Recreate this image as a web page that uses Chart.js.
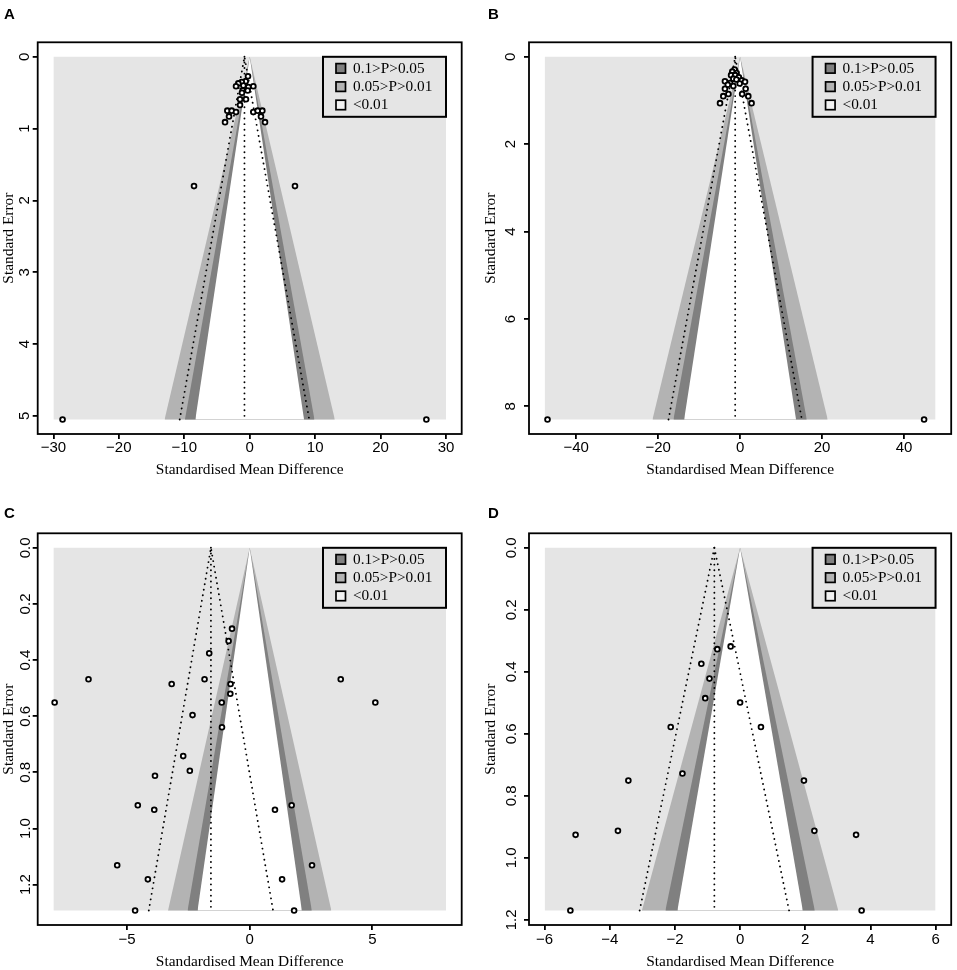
<!DOCTYPE html>
<html>
<head>
    <title>Contour-enhanced funnel plots</title>
    <script src="https://cdn.jsdelivr.net/npm/chart.js"></script>
    <style>
        body { margin: 0; background: #fff; }
        #wrap { position: relative; width: 957px; height: 970px; }
        canvas { position: absolute; }
        .tag { position: absolute; font: bold 15px "Liberation Sans", Arial, sans-serif; line-height: 1; }
    </style>
</head>
<body>
<div id="wrap">
    <canvas id="chartA" width="478" height="480" style="left:0;top:0"></canvas>
    <canvas id="chartB" width="479" height="480" style="left:478px;top:0"></canvas>
    <canvas id="chartC" width="478" height="490" style="left:0;top:480px"></canvas>
    <canvas id="chartD" width="479" height="490" style="left:478px;top:480px"></canvas>
    <div class="tag" style="left:4px;top:6px">A</div>
    <div class="tag" style="left:488px;top:6px">B</div>
    <div class="tag" style="left:4px;top:505px">C</div>
    <div class="tag" style="left:488px;top:505px">D</div>
</div>
<script>
    // study estimates (SMD) and standard errors
    const smdA = [-0.26, -0.61, -1.22, -1.74, -2.09, -0.97, -0.21, 0.55, -1.07, -0.31, -1.18, -1.48, -0.57, -1.48,
        -3.42, -2.75, -2.09, -3.16, -3.77, 0.55, 1.22, 1.93, 1.72, 2.34, -8.51, 6.92, -28.6, 27.0];
    const seA = [0.27, 0.34, 0.35, 0.37, 0.41, 0.40, 0.42, 0.41, 0.47, 0.47, 0.50, 0.59, 0.59, 0.67,
        0.75, 0.75, 0.77, 0.83, 0.91, 0.77, 0.75, 0.75, 0.83, 0.91, 1.80, 1.80, 5.05, 5.05];

    const smdB = [-1.35, -1.9, -0.85, -2.2, -1.2, -0.3, -1.65, -0.9, 0.4, -3.7, -2.45, 1.2, -0.1, -3.0, -1.65,
        -3.7, 1.35, -2.85, 0.5, -4.1, 2.0, -4.9, 2.8, -47.0, 44.9];
    const seB = [0.29, 0.34, 0.37, 0.42, 0.42, 0.47, 0.50, 0.52, 0.54, 0.56, 0.60, 0.57, 0.61, 0.64, 0.67,
        0.73, 0.73, 0.85, 0.85, 0.90, 0.90, 1.06, 1.06, 8.30, 8.30];

    const smdC = [-0.72, -0.86, -1.65, -6.57, -1.84, -3.18, -0.78, 3.71, -7.95, -1.14, -0.79, 5.12, -2.33, -1.13,
        -2.71, -2.44, -3.86, -4.56, -3.89, 1.03, 1.71, -5.40, 2.54, -4.15, 1.32, -4.67, 1.81];
    const seC = [0.288, 0.332, 0.376, 0.468, 0.468, 0.485, 0.485, 0.468, 0.551, 0.551, 0.520, 0.551, 0.596, 0.639,
        0.742, 0.794, 0.812, 0.917, 0.933, 0.933, 0.917, 1.131, 1.131, 1.181, 1.181, 1.292, 1.292];

    const smdD = [-0.29, -0.70, -1.19, -0.94, -1.07, 0.0, -2.13, 0.64, -1.77, -3.43, 1.96, -3.75, 2.28, -5.05, 3.56, -5.21, 3.73];
    const seD = [0.318, 0.327, 0.374, 0.422, 0.485, 0.499, 0.578, 0.578, 0.728, 0.751, 0.751, 0.913, 0.913, 0.926, 0.926, 1.17, 1.17];

    // pooled estimate, largest SE and x limit of each panel (A, B, C, D)
    const pooledSmd = [-0.8, -1.2, -1.58, -0.79];
    const seMax = [5.05, 8.30, 1.292, 1.17];
    const xLimit = [30, 47.7, 8, 6];

    const xTicksA = [-30, -20, -10, 0, 10, 20, 30];
    const xTicksB = [-40, -20, 0, 20, 40];
    const xTicksC = [-5, 0, 5];
    const xTicksD = [-6, -4, -2, 0, 2, 4, 6];
    const yTicksA = [0, 1, 2, 3, 4, 5];
    const yTicksB = [0, 2, 4, 6, 8];
    const yTicksC = [0, 0.2, 0.4, 0.6, 0.8, 1.0, 1.2];
    const yTicksD = [0, 0.2, 0.4, 0.6, 0.8, 1.0, 1.2];

    // contour z values: 0.1, 0.05, 0.01 two-sided
    const contourZ = [1.645, 1.96, 2.576];
    const ciZ = 1.96;
    const legendLabels = ['0.1>P>0.05', '0.05>P>0.01', '<0.01'];

    const colOuter = '#e5e5e5';
    const colLight = '#b3b3b3';
    const colDark = '#808080';
    const legendFills = [colDark, colLight, '#f2f2f2'];
    const serif = '"Liberation Serif", "Times New Roman", serif';

    Chart.defaults.color = '#000';
    Chart.defaults.font.family = '"Liberation Sans", Arial, sans-serif';

    // legend box in the top right corner of the shaded region
    const contourLegend = {
        id: 'contourLegend',
        afterDatasetsDraw(chart, args, opts) {
            const {ctx, scales: {x, y}} = chart;
            const right = x.getPixelForValue(opts.xRight);
            const top = y.getPixelForValue(0);
            const w = 123, h = 60;
            const left = right - w;
            ctx.save();
            ctx.fillStyle = colOuter;
            ctx.fillRect(left, top, w, h);
            ctx.lineWidth = 2;
            ctx.strokeStyle = '#000';
            ctx.strokeRect(left, top, w, h);
            ctx.font = '15.3px ' + serif;
            ctx.textBaseline = 'middle';
            ctx.textAlign = 'left';
            ctx.lineWidth = 1.7;
            legendLabels.forEach((lab, i) => {
                const cy = top + 11.5 + i * 18.3;
                ctx.fillStyle = legendFills[i];
                ctx.fillRect(left + 13, cy - 4.7, 9.5, 9.5);
                ctx.strokeRect(left + 13, cy - 4.7, 9.5, 9.5);
                ctx.fillStyle = '#000';
                ctx.fillText(lab, left + 30, cy + 0.5);
            });
            ctx.restore();
        }
    };

    // box around the plot region
    const frameBox = {
        id: 'frameBox',
        afterDraw(chart) {
            const {ctx, chartArea: a} = chart;
            ctx.save();
            ctx.lineWidth = 1.8;
            ctx.strokeStyle = '#000';
            ctx.strokeRect(a.left, a.top, a.right - a.left, a.bottom - a.top);
            ctx.restore();
        }
    };

    function triangle(z, s) {
        return [{x: -z * s, y: s}, {x: 0, y: 0}, {x: z * s, y: s}];
    }

    function fmtTick(v, dec) {
        const s = Math.abs(v).toFixed(dec);
        return v < 0 ? '\u2212' + s : s;
    }

    function drawFunnel(id, i, smd, se, xTicks, yTicks, yDec, frame, pads) {
        const canvas = document.getElementById(id);
        const s = seMax[i], p = pooledSmd[i], lim = xLimit[i];
        const dotted = {
            type: 'line', borderColor: '#000', borderWidth: 1.9, borderDash: [0.01, 5.6],
            borderCapStyle: 'round', pointRadius: 0, fill: false, order: 1
        };
        const band = (z, color, order) => ({
            type: 'line', data: triangle(z, s), borderWidth: 0, borderColor: color,
            backgroundColor: color, pointRadius: 0, fill: {value: s}, order: order
        });

        new Chart(canvas, {
            type: 'scatter',
            data: {
                datasets: [
                    {
                        data: smd.map((v, k) => ({x: v, y: se[k]})),
                        pointStyle: 'circle', pointRadius: 2.4, borderWidth: 1.8,
                        borderColor: '#000', backgroundColor: '#fff', order: 0
                    },
                    Object.assign({data: [{x: p, y: 0}, {x: p, y: s}]}, dotted),
                    Object.assign({data: [{x: p - ciZ * s, y: s}, {x: p, y: 0}, {x: p + ciZ * s, y: s}]}, dotted),
                    band(contourZ[0], '#ffffff', 2),
                    band(contourZ[1], colDark, 3),
                    band(contourZ[2], colLight, 4),
                    {
                        type: 'line', data: [{x: -lim, y: 0}, {x: lim, y: 0}], borderWidth: 0,
                        borderColor: colOuter, backgroundColor: colOuter, pointRadius: 0,
                        fill: {value: s}, order: 5
                    }
                ]
            },
            options: {
                responsive: false,
                animation: false,
                events: [],
                layout: {
                    padding: {
                        left: 0, top: frame.top,
                        right: canvas.width - frame.right,
                        bottom: canvas.height - frame.bottom - pads.xAxisH
                    }
                },
                plugins: {
                    legend: {display: false},
                    tooltip: {enabled: false},
                    contourLegend: {xRight: lim}
                },
                scales: {
                    x: {
                        type: 'linear',
                        min: -lim * 1.08, max: lim * 1.08,
                        afterBuildTicks: ax => { ax.ticks = xTicks.map(v => ({value: v})); },
                        afterFit: ax => { ax.height = pads.xAxisH; },
                        grid: {drawOnChartArea: false, drawTicks: true, tickLength: 5, color: '#000', lineWidth: 1.8},
                        border: {display: false},
                        ticks: {
                            padding: pads.xTick, font: {size: 15}, maxRotation: 0,
                            callback: v => fmtTick(v, 0)
                        },
                        title: {
                            display: true, text: 'Standardised Mean Difference',
                            font: {family: serif, size: 15.4},
                            padding: {top: 0, bottom: 0}
                        }
                    },
                    y: {
                        type: 'linear',
                        reverse: true,
                        min: -0.04 * s, max: 1.04 * s,
                        afterBuildTicks: ax => { ax.ticks = yTicks.map(v => ({value: v})); },
                        afterFit: ax => { ax.width = frame.left; },
                        grid: {drawOnChartArea: false, drawTicks: true, tickLength: 5, color: '#000', lineWidth: 1.8},
                        border: {display: false},
                        ticks: {
                            padding: pads.yTick, font: {size: 15}, minRotation: 90, maxRotation: 90,
                            crossAlign: 'center',
                            callback: v => fmtTick(v, yDec)
                        },
                        title: {
                            display: true, text: 'Standard Error',
                            font: {family: serif, size: 15.4},
                            padding: {top: pads.yTitle, bottom: 0}
                        }
                    }
                }
            },
            plugins: [contourLegend, frameBox]
        });
    }

    drawFunnel('chartA', 0, smdA, seA, xTicksA, yTicksA, 0, {left: 37.7, right: 461.7, top: 42.3, bottom: 434},
        {xAxisH: 45.2, xTick: 0, yTick: 3.5, yTitle: 0});
    drawFunnel('chartB', 1, smdB, seB, xTicksB, yTicksB, 0, {left: 51, right: 474.3, top: 42.3, bottom: 434},
        {xAxisH: 45.2, xTick: 0, yTick: 8.5, yTitle: 4.1});
    drawFunnel('chartC', 2, smdC, seC, xTicksC, yTicksC, 1, {left: 37.7, right: 461.7, top: 53.3, bottom: 445},
        {xAxisH: 45.9, xTick: 1, yTick: -3.5, yTitle: 0});
    drawFunnel('chartD', 3, smdD, seD, xTicksD, yTicksD, 1, {left: 51, right: 474.3, top: 53.3, bottom: 445},
        {xAxisH: 45.9, xTick: 1, yTick: 1.3, yTitle: 4.1});
</script>
</body>
</html>
